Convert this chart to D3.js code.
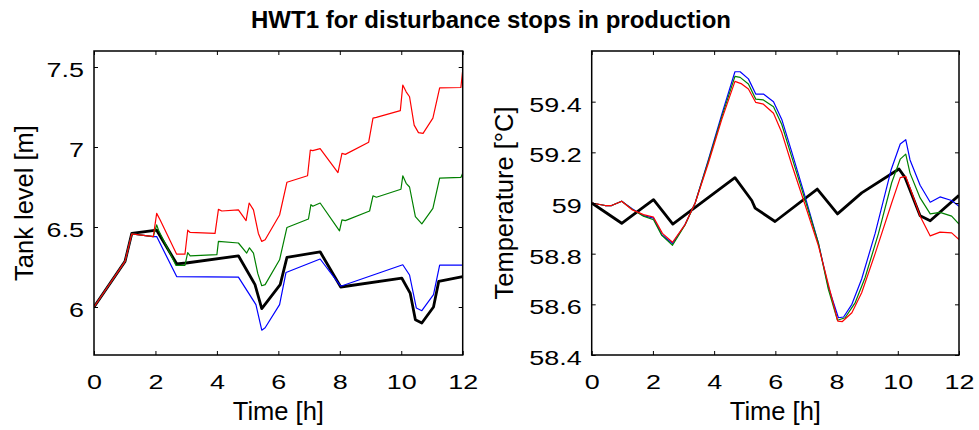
<!DOCTYPE html>
<html>
<head>
<meta charset="utf-8">
<script src="https://cdn.jsdelivr.net/npm/d3@7/dist/d3.min.js"></script>
<style>
  html, body { margin: 0; padding: 0; background: #fff; }
  svg { display: block; font-family: "Liberation Sans", Arial, Helvetica, sans-serif; }
</style>
</head>
<body>
<svg id="chart" width="979" height="430"></svg>
<script>
// ---------------- DATA ----------------
const title = "HWT1 for disturbance stops in production";
const xTicks = [0, 2, 4, 6, 8, 10, 12];
const levelTicks = [6, 6.5, 7, 7.5];
const tempTicks = [58.4, 58.6, 58.8, 59, 59.2, 59.4];

// Left panel: tank level [m]  ([time h, value])
const levelBlack = [[0,6.0],[1.01,6.285],[1.23,6.46],[2.04,6.48],[2.69,6.27],[3.0,6.275],[4.70,6.32],[5.24,6.14],[5.46,5.99],[6.06,6.14],[6.28,6.31],[7.36,6.345],[8.03,6.125],[10.02,6.18],[10.29,6.087],[10.46,5.92],[10.67,5.90],[11.05,6.0],[11.22,6.16],[12.0,6.19]];
const levelRed = [[0,6.0],[1.01,6.285],[1.23,6.457],[1.93,6.44],[2.04,6.585],[2.15,6.545],[2.69,6.33],[2.96,6.33],[3.05,6.48],[3.13,6.466],[3.94,6.46],[4.05,6.61],[4.16,6.60],[4.70,6.607],[4.95,6.54],[5.05,6.65],[5.19,6.607],[5.35,6.46],[5.46,6.41],[5.57,6.42],[6.04,6.575],[6.28,6.78],[6.95,6.82],[7.04,6.98],[7.12,6.977],[7.36,6.99],[7.94,6.84],[8.07,6.96],[8.18,6.954],[8.94,7.03],[9.08,7.18],[9.19,7.185],[9.97,7.227],[10.05,7.387],[10.16,7.345],[10.27,7.314],[10.42,7.137],[10.56,7.09],[10.71,7.085],[11.03,7.18],[11.25,7.37],[11.94,7.372],[12.0,7.48]];
const levelGreen = [[0,6.0],[1.01,6.285],[1.23,6.457],[1.93,6.44],[2.04,6.513],[2.10,6.48],[2.67,6.26],[2.96,6.26],[3.05,6.34],[3.13,6.32],[4.0,6.327],[4.05,6.41],[4.70,6.40],[4.97,6.337],[5.06,6.37],[5.19,6.337],[5.33,6.21],[5.46,6.133],[5.57,6.14],[6.04,6.295],[6.28,6.497],[6.98,6.55],[7.06,6.64],[7.12,6.63],[7.36,6.65],[7.99,6.476],[8.07,6.545],[8.18,6.54],[8.97,6.60],[9.08,6.695],[9.19,6.686],[9.99,6.736],[10.05,6.82],[10.16,6.773],[10.27,6.75],[10.46,6.565],[10.67,6.52],[11.03,6.617],[11.25,6.805],[11.94,6.81],[12.0,6.836]];
const levelBlue = [[0,6.0],[1.01,6.285],[1.23,6.457],[1.93,6.44],[2.04,6.44],[2.69,6.19],[4.70,6.187],[5.27,6.015],[5.46,5.855],[5.57,5.87],[6.04,6.015],[6.25,6.216],[7.36,6.30],[8.03,6.13],[10.05,6.264],[10.27,6.20],[10.49,5.994],[10.67,5.977],[11.05,6.077],[11.25,6.262],[12.0,6.262]];

// Right panel: temperature [°C]
const tempBlack = [[0,59.0],[0.98,58.92],[2.02,59.013],[2.65,58.917],[4.68,59.10],[5.23,59.01],[5.34,58.98],[5.99,58.927],[7.37,59.055],[8.03,58.957],[8.82,59.04],[10.04,59.134],[10.24,59.10],[10.73,58.95],[11.06,58.93],[12.0,59.03]];
const tempBlue = [[0,59.0],[0.44,58.99],[0.65,58.99],[0.98,59.007],[1.31,58.978],[1.69,58.95],[2.02,58.94],[2.29,58.875],[2.64,58.84],[3.05,58.915],[3.38,59.0],[3.81,59.17],[4.25,59.35],[4.68,59.518],[4.85,59.518],[5.12,59.49],[5.36,59.43],[5.61,59.43],[5.94,59.40],[6.21,59.33],[6.54,59.20],[6.97,59.026],[7.41,58.84],[7.73,58.67],[8.06,58.547],[8.23,58.55],[8.50,58.60],[8.82,58.70],[9.26,58.88],[9.78,59.13],[10.08,59.233],[10.26,59.25],[10.40,59.17],[10.73,59.07],[11.06,59.003],[11.38,59.024],[11.76,59.01],[12.0,58.987]];
const tempGreen = [[0,59.0],[0.44,58.99],[0.65,58.99],[0.98,59.007],[1.31,58.976],[1.69,58.948],[2.02,58.934],[2.29,58.872],[2.64,58.833],[3.05,58.913],[3.38,59.0],[3.81,59.165],[4.25,59.34],[4.68,59.50],[4.85,59.496],[5.12,59.47],[5.36,59.41],[5.61,59.407],[5.94,59.38],[6.21,59.31],[6.54,59.18],[6.97,59.013],[7.41,58.84],[7.73,58.66],[8.03,58.537],[8.28,58.547],[8.61,58.607],[8.93,58.705],[9.37,58.88],[9.80,59.08],[10.08,59.173],[10.26,59.193],[10.40,59.118],[10.73,59.02],[11.06,58.957],[11.38,58.963],[11.76,58.948],[12.0,58.917]];
const tempRed = [[0,59.0],[0.44,58.99],[0.65,58.99],[0.98,59.007],[1.31,58.974],[1.69,58.954],[2.02,58.944],[2.31,58.88],[2.64,58.845],[3.05,58.915],[3.38,59.0],[3.81,59.157],[4.25,59.33],[4.68,59.48],[4.90,59.47],[5.12,59.45],[5.36,59.397],[5.61,59.39],[5.94,59.354],[6.21,59.278],[6.54,59.15],[6.97,58.993],[7.41,58.83],[8.04,58.534],[8.19,58.532],[8.50,58.567],[8.82,58.646],[9.26,58.80],[9.80,59.0],[10.08,59.10],[10.26,59.105],[10.46,59.04],[10.73,58.948],[11.06,58.87],[11.38,58.885],[11.76,58.882],[12.0,58.856]];

// ---------------- DRAWING ----------------
const svg = d3.select("#chart");
const tickFont = 19.5;
const tickStretch = 1.38;
const labelFont = 25.5;

svg.append("text")
  .attr("x", 491).attr("y", 27.5)
  .attr("text-anchor", "middle")
  .attr("font-size", 24).attr("font-weight", "bold")
  .text(title);

function stretchText(sel) {
  sel.each(function () {
    const w = this.getComputedTextLength();
    d3.select(this).attr("textLength", w * tickStretch).attr("lengthAdjust", "spacingAndGlyphs");
  });
}

function panel(opts) {
  const { x0, x1, y0, y1, yDomain, yTicks, yLabel, yLabelX, series, id } = opts;
  const x = d3.scaleLinear().domain([0, 12]).range([x0, x1]);
  const y = d3.scaleLinear().domain(yDomain).range([y1, y0]);
  const g = svg.append("g");

  g.append("clipPath").attr("id", id).append("rect")
    .attr("x", x0).attr("y", y0).attr("width", x1 - x0).attr("height", y1 - y0);

  const line = d3.line().x(d => x(d[0])).y(d => y(d[1]));
  const lines = g.append("g").attr("clip-path", `url(#${id})`);
  series.forEach(s => {
    lines.append("path").datum(s.data)
      .attr("fill", "none").attr("stroke", s.color)
      .attr("stroke-width", s.width).attr("stroke-linejoin", "round")
      .attr("d", line);
  });

  const fmt = d => String(+d.toFixed(2));
  const tl = 4;
  const xb = g.append("g").attr("transform", `translate(0,${y1})`)
    .call(d3.axisBottom(x).tickValues(xTicks).tickSize(-tl).tickPadding(20).tickFormat(fmt));
  const xt = g.append("g").attr("transform", `translate(0,${y0})`)
    .call(d3.axisTop(x).tickValues(xTicks).tickSize(-tl).tickFormat(""));
  const yl = g.append("g").attr("transform", `translate(${x0},0)`)
    .call(d3.axisLeft(y).tickValues(yTicks).tickSize(-tl).tickPadding(10).tickFormat(fmt));
  const yr = g.append("g").attr("transform", `translate(${x1},0)`)
    .call(d3.axisRight(y).tickValues(yTicks).tickSize(-tl).tickFormat(""));

  [xb, xt, yl, yr].forEach(a => {
    a.select(".domain").remove();
    a.selectAll(".tick line").attr("stroke", "#000").attr("stroke-width", 1);
    a.selectAll("text").attr("font-size", tickFont).attr("fill", "#000")
      .attr("font-family", "'Liberation Sans', Arial, sans-serif");
  });
  xb.selectAll("text").attr("dy", "0.71em").call(stretchText);
  yl.selectAll("text").attr("dy", "0.48em").call(stretchText);

  g.append("rect").attr("x", x0).attr("y", y0)
    .attr("width", x1 - x0).attr("height", y1 - y0)
    .attr("fill", "none").attr("stroke", "#000").attr("stroke-width", 1.5);

  g.append("text")
    .attr("x", (x0 + x1) / 2).attr("y", 420)
    .attr("text-anchor", "middle").attr("font-size", labelFont)
    .text("Time [h]");

  g.append("text")
    .attr("transform", `translate(${yLabelX},${(y0 + y1) / 2}) rotate(-90)`)
    .attr("text-anchor", "middle").attr("font-size", labelFont)
    .text(yLabel);
}

panel({
  id: "clipL", x0: 94, x1: 462.7, y0: 51, y1: 355,
  yDomain: [5.7, 7.6], yTicks: levelTicks, yLabel: "Tank level [m]", yLabelX: 33,
  series: [
    { data: levelBlack, color: "#000", width: 2.8 },
    { data: levelBlue, color: "#0000ff", width: 1.2 },
    { data: levelGreen, color: "#008000", width: 1.2 },
    { data: levelRed, color: "#ff0000", width: 1.2 }
  ]
});

panel({
  id: "clipR", x0: 591.7, x1: 959, y0: 51, y1: 355,
  yDomain: [58.4, 59.6], yTicks: tempTicks, yLabel: "Temperature [°C]", yLabelX: 513,
  series: [
    { data: tempBlack, color: "#000", width: 2.8 },
    { data: tempBlue, color: "#0000ff", width: 1.2 },
    { data: tempGreen, color: "#008000", width: 1.2 },
    { data: tempRed, color: "#ff0000", width: 1.2 }
  ]
});
</script>
</body>
</html>
